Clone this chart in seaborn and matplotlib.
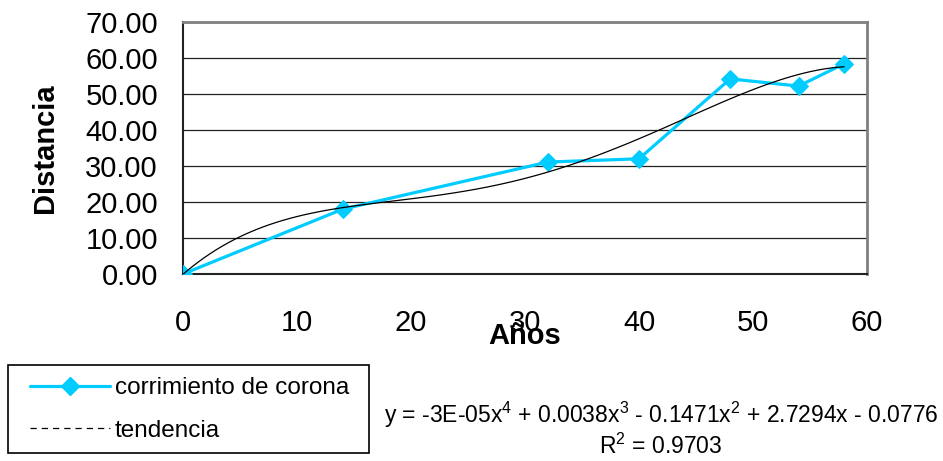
import matplotlib
matplotlib.use("Agg")
import matplotlib.pyplot as plt
from matplotlib.lines import Line2D
from matplotlib.patches import Rectangle
import seaborn as sns
import pandas as pd

anos = [0, 14, 32, 40, 48, 54, 58]
distancia = [0.0, 18.0, 31.1, 32.0, 54.2, 52.2, 58.4]
x_ticks = [0, 10, 20, 30, 40, 50, 60]
y_ticks = [0, 10, 20, 30, 40, 50, 60, 70]
serie_label = "corrimiento de corona"
trend_label = "tendencia"
ecuacion = "y = -3E-05x$^4$ + 0.0038x$^3$ - 0.1471x$^2$ + 2.7294x - 0.0776"
r2_text = "R$^2$ = 0.9703"

df = pd.DataFrame({"Años": anos, "Distancia": distancia})

sns.set_theme(style="white")
plt.rcParams["font.family"] = ["Liberation Sans", "DejaVu Sans"]
plt.rcParams["mathtext.fontset"] = "custom"
plt.rcParams["mathtext.rm"] = "Liberation Sans"
plt.rcParams["text.color"] = "black"
plt.rcParams["axes.labelcolor"] = "black"

W, H = 943, 461
fig = plt.figure(figsize=(W/100, H/100), dpi=100)
ax = fig.add_axes([183/W, 1-274/H, (867-183)/W, (274-22)/H])

cyan = "#00CCFF"
sns.lineplot(data=df, x="Años", y="Distancia", ax=ax, color=cyan, lw=2.3,
             marker="D", markersize=9, markeredgecolor=cyan, zorder=3)
sns.regplot(data=df, x="Años", y="Distancia", ax=ax, order=4, ci=None,
            scatter=False, line_kws=dict(color="black", lw=0.9, zorder=4))

ax.set_xlim(0, 60)
ax.set_ylim(0, 70)
ax.set_xticks(x_ticks)
ax.set_yticks(y_ticks)
ax.set_yticklabels([f"{v:.2f}" for v in y_ticks])
ax.tick_params(axis="both", labelsize=21, labelcolor="black", direction="out")
ax.tick_params(axis="x", length=7, width=1, pad=18, color="#333333")
ax.tick_params(axis="y", length=7, width=1, pad=11, color="#333333")
ax.yaxis.grid(True, color="#222222", lw=0.9)
ax.xaxis.grid(False)
ax.set_axisbelow(True)

for s in ["left", "bottom"]:
    ax.spines[s].set_color("#222222")
    ax.spines[s].set_linewidth(1.5)
for s in ["top", "right"]:
    ax.spines[s].set_color("#808080")
    ax.spines[s].set_linewidth(2)

ax.set_xlabel("Años", fontsize=21, fontweight="bold")
ax.set_ylabel("Distancia", fontsize=21, fontweight="bold")
ax.xaxis.set_label_coords(0.5, (274-322)/252)
ax.yaxis.set_label_coords((59-183)/684, 0.5)

# legend box
fig.patches.append(Rectangle((8/W, 1-453/H), (369-8)/W, (453-365)/H,
                             transform=fig.transFigure, fill=False,
                             edgecolor="black", lw=1.2))
handles = [
    Line2D([], [], color=cyan, lw=2.3, marker="D", markersize=9, markeredgecolor=cyan),
    Line2D([], [], color="black", lw=0.9, ls=(0, (5, 4))),
]
leg = fig.legend(handles, [serie_label, trend_label], loc="upper left",
                 bbox_to_anchor=(30/W, 1-377/H), fontsize=17.5, frameon=False,
                 handlelength=3.3, labelspacing=0.85, borderpad=0,
                 handletextpad=0.2, borderaxespad=0)

fig.text(661/W, 1-415/H, ecuacion, ha="center", va="center", fontsize=16.5)
fig.text(661/W, 1-446/H, r2_text, ha="center", va="center", fontsize=16.5)

fig.savefig("out.png", dpi=100, facecolor="white")
